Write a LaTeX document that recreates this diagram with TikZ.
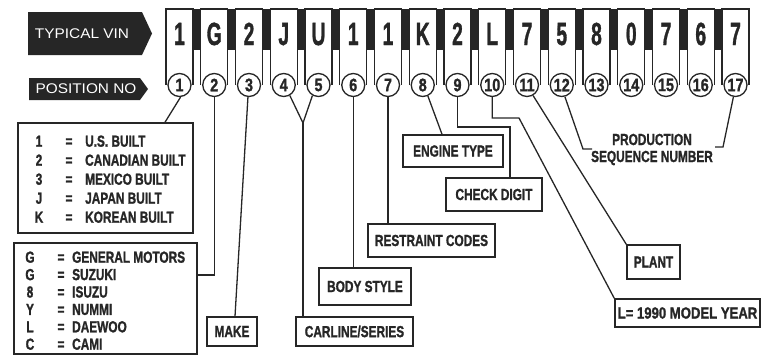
\documentclass[tikz,border=0pt]{standalone}
\usepackage{fontspec}
\setmainfont{Liberation Sans}[BoldFeatures={FakeBold=1.5}]
\usepackage{graphicx}
\colorlet{ink}{black!85}
\newcommand{\cnd}[1]{\scalebox{0.74}[1]{#1}}
\newcommand{\vinch}[1]{\scalebox{0.6}[1]{#1}}
\newcommand{\posno}[1]{\scalebox{0.8}[1]{#1}}
\newcommand{\wide}[1]{\scalebox{1.1}[1]{#1}}
\tikzset{
  lbl/.style={draw=ink, line width=1.5pt, inner sep=0pt, text=ink,
    font=\fontsize{16}{19}\selectfont\bfseries},
  lst/.style={inner sep=0pt, text=ink, anchor=base,
    font=\fontsize{16}{17}\selectfont\bfseries},
  link/.style={draw=ink, line width=1.3pt},
  keyline/.style={draw=ink, line width=1.3pt, fill=white},
  vinchar/.style={anchor=base, inner sep=0pt, text=ink,
    font=\fontsize{32}{32}\selectfont\bfseries},
  posc/.style={circle, draw=ink, line width=1.3pt, fill=white, minimum size=23pt,
    inner sep=0pt, text=ink, font=\fontsize{18}{18}\selectfont\bfseries},
  tagtext/.style={inner sep=0pt, text=white, font=\fontsize{14}{14}\selectfont}
}
\begin{document}
\begin{tikzpicture}[x=1pt,y=-1pt]
\useasboundingbox (0,0) rectangle (762,356);

% tags on the left
\fill[ink] (28,12) -- (142,12) -- (152,33.5) -- (142,55) -- (28,55) -- cycle;
\node[tagtext] (vinlbl) at (82,33.5) {\wide{TYPICAL VIN}};
\fill[ink] (29,78) -- (140,78) -- (148,89) -- (140,100) -- (29,100) -- cycle;
\node[tagtext] (poslbl) at (86,89) {\wide{POSITION NO}};

% black bars between the keys
\foreach \i in {1,...,16} {
  \pgfmathsetmacro{\kx}{166+34.75*(\i-1)}
  \fill[ink] (\kx+27,9) rectangle (\kx+34.75,50);
}
% keys, characters and position circles
\foreach \ch [count=\i] in {1,G,2,J,U,1,1,K,2,L,7,5,8,0,7,6,7} {
  \pgfmathsetmacro{\kx}{166+34.75*(\i-1)}
  \draw[keyline] (\kx,85) -- (\kx,9) -- (\kx+27,9) -- (\kx+27,85);
  \node[vinchar] (v\i) at (\kx+13.5,45) {\vinch{\ch}};
  \node[posc] (c\i) at (\kx+13.5,85) {\posno{\i}};
}

% country box
\node[lbl, minimum width=175pt, minimum height=110pt] (country) at (105.5,178) {};
\foreach \k/\t [count=\r] in {1/U.S. BUILT,2/CANADIAN BUILT,3/MEXICO BUILT,J/JAPAN BUILT,K/KOREAN BUILT} {
  \node[lst] (ctyk\r) at (39,127.7+19*\r) {\cnd{\k}};
  \node[lst] (ctye\r) at (69,127.7+19*\r) {\cnd{=}};
  \node[lst, anchor=base west] (cty\r) at (85,127.7+19*\r) {\cnd{\t}};
}

% manufacturer box
\node[lbl, minimum width=183pt, minimum height=111pt] (maker) at (105.5,298.5) {};
\foreach \k/\t [count=\r] in {G/GENERAL MOTORS,G/SUZUKI,8/ISUZU,Y/NUMMI,L/DAEWOO,C/CAMI} {
  \node[lst] (mfk\r) at (30,245.3+17.4*\r) {\cnd{\k}};
  \node[lst] (mfe\r) at (61,245.3+17.4*\r) {\cnd{=}};
  \node[lst, anchor=base west] (mf\r) at (72,245.3+17.4*\r) {\cnd{\t}};
}

% other labels
\node[lbl, minimum width=50pt, minimum height=29pt] (make) at (232,331.5) {\cnd{MAKE}};
\node[lbl, minimum width=117pt, minimum height=29pt] (carline) at (354.5,331.5) {\cnd{CARLINE/SERIES}};
\node[lbl, minimum width=92pt, minimum height=37pt] (body) at (365,286.5) {\cnd{BODY STYLE}};
\node[lbl, minimum width=127pt, minimum height=33pt] (restraint) at (431.5,240.5) {\cnd{RESTRAINT CODES}};
\node[lbl, minimum width=100pt, minimum height=32pt] (engine) at (453,151) {\cnd{ENGINE TYPE}};
\node[lbl, minimum width=96pt, minimum height=33pt] (check) at (494,194.5) {\cnd{CHECK DIGIT}};
\node[lbl, minimum width=53pt, minimum height=34pt] (plant) at (653.5,262) {\cnd{PLANT}};
\node[lbl, minimum width=145pt, minimum height=28pt] (year) at (687.5,313) {\scalebox{0.82}[1]{L= 1990 MODEL YEAR}};
\node[lst, anchor=center, align=center] (prod) at (652,149.5) {\cnd{PRODUCTION}\\\cnd{SEQUENCE NUMBER}};

% connectors
\coordinate (m2) at (197,275);
\coordinate (v45) at (303,123);
\coordinate (k9) at (510,127);
\coordinate (k10) at (519,118);
\coordinate (p12) at (592,149);
\coordinate (p17) at (715,147);
\draw[link] (c1.-85) -- (165,0 |- country.north);
\draw[link] (c2.south) |- (m2);
\draw[link] (c3.-95) -- ([xshift=3pt]make.north);
\draw[link] (c4.-60) -- (v45) -- (c5.-120);
\draw[link] (v45) -- (v45 |- carline.north);
\draw[link] (c6.south) -- (c6.south |- body.north);
\draw[link] (c7.south) -- (c7.south |- restraint.north);
\draw[link] (c8.-65) -- ([xshift=-11pt]engine.north);
\draw[link] (c9.south) |- (k9) -- (k9 |- check.north);
\draw[link] (c10.south) |- (k10) -- (year.north west);
\draw[link] (c11.-60) -- (plant.north west);
\draw[link] (c12.-75) -- ([xshift=-9pt]p12) -- (p12);
\draw[link] (c17.-100) -- ([xshift=8pt]p17) -- (p17);
\end{tikzpicture}
\end{document}
